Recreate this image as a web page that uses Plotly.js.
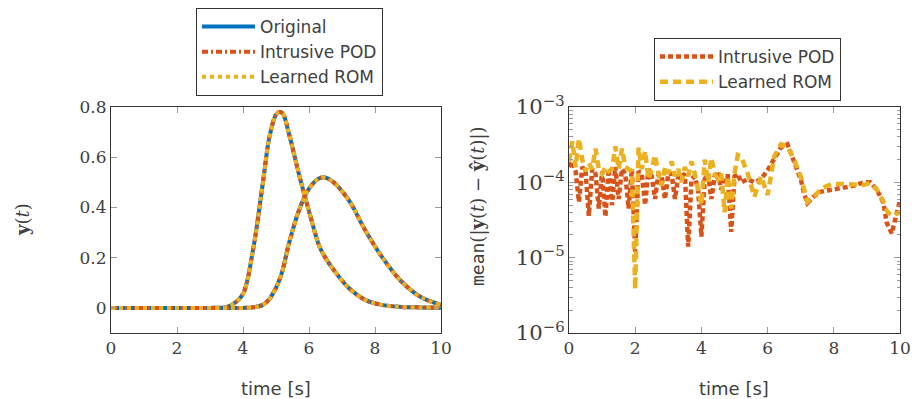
<!DOCTYPE html>
<html>
<head>
<meta charset="utf-8">
<script src="https://cdn.plot.ly/plotly-3.0.1.min.js"></script>
<style>html,body{margin:0;padding:0;background:#fff;}#chart{width:912px;height:399px;}</style>
</head>
<body>
<div id="chart"></div>
<script>
// ---- Left panel: outputs y(t) ----
const tLeft = [0, 1, 2, 3, 3.4, 3.5, 3.7, 4.0, 4.3, 4.6, 4.8, 5.0, 5.1, 5.2, 5.4, 5.7, 6.0, 6.3, 6.45, 6.7, 7.2, 7.7, 8.2, 8.8, 9.4, 10];
const yOut1 = [0, 0, 0, 0, 0.001, 0.003, 0.015, 0.056, 0.228, 0.496, 0.68, 0.77, 0.78, 0.775, 0.69, 0.53, 0.385, 0.25, 0.21, 0.16, 0.08, 0.032, 0.012, 0.004, 0.002, 0.001];
const yOut2 = [0, 0, 0, 0, 0, 0, 0, 0, 0.002, 0.012, 0.035, 0.08, 0.11, 0.15, 0.26, 0.39, 0.475, 0.515, 0.52, 0.505, 0.43, 0.31, 0.205, 0.105, 0.042, 0.012];

// ---- Right panel: mean absolute error ----
const tErr = [0,0.1,0.2,0.3,0.4,0.5,0.6,0.7,0.8,0.9,1.0,1.1,1.2,1.3,1.4,1.5,1.6,1.7,1.8,1.9,2.0,2.1,2.2,2.3,2.4,2.5,2.6,2.7,2.8,2.9,3.0,3.1,3.2,3.3,3.4,3.5,3.6,3.7,3.8,3.9,4.0,4.1,4.2,4.3,4.4,4.5,4.6,4.7,4.8,4.9,5.0,5.1,5.2,5.4,5.6,5.8,6.0,6.2,6.4,6.6,6.8,7.0,7.1,7.2,7.4,7.6,7.8,8.0,8.3,8.6,8.9,9.1,9.3,9.5,9.6,9.75,10];
const errPOD = [1.6e-4,1.9e-4,1.4e-4,5.5e-5,1.6e-4,1.4e-4,3.6e-5,1.5e-4,1.3e-4,4.5e-5,1.4e-4,3.5e-5,1.5e-4,5e-5,1.6e-4,6e-5,1.5e-4,1.3e-4,4.5e-5,1.5e-4,1.2e-5,1.4e-4,1.3e-4,5e-5,1.5e-4,1.2e-4,6e-5,1.3e-4,1.2e-4,6e-5,1.3e-4,1.3e-4,6e-5,1.2e-4,1.2e-4,1.3e-4,1.4e-5,1.1e-4,1.2e-4,8e-5,1.9e-5,1.1e-4,1.3e-4,6e-5,1.2e-4,1.4e-4,8e-5,1.2e-4,1.2e-4,2.2e-5,1.2e-4,1.3e-4,1.0e-4,1.1e-4,1.0e-4,1.1e-4,1.45e-4,2.0e-4,2.9e-4,3.2e-4,1.8e-4,1.1e-4,7.2e-5,5.3e-5,6.5e-5,7.5e-5,7.8e-5,8e-5,8.5e-5,9e-5,1.0e-4,1.0e-4,8e-5,5.3e-5,2.9e-5,2.1e-5,5.8e-5];
const errROM = [1.9e-4,3.5e-4,1.6e-4,3.8e-4,2.0e-4,1.4e-4,1.8e-4,1.5e-4,2.8e-4,1.5e-4,1.3e-4,1.6e-4,1.4e-4,1.5e-4,3.0e-4,1.5e-4,2.8e-4,1.6e-4,1.5e-4,1.4e-4,3.8e-6,2.9e-4,1.5e-4,2.6e-4,1.1e-4,1.5e-4,2.3e-4,1.3e-4,9e-5,1.6e-4,1.3e-4,1.9e-4,1.2e-4,1.5e-4,1.0e-4,1.6e-4,1.2e-4,1.9e-4,1.3e-4,8e-5,5e-5,2.0e-4,1.0e-4,2.1e-4,1.3e-4,1.1e-4,1.3e-4,4e-5,1.2e-4,4.5e-5,1.3e-4,2.3e-4,2.2e-4,1.3e-4,6.4e-5,1.2e-4,6.8e-5,2.2e-4,3.2e-4,3.0e-4,2.0e-4,1.2e-4,8e-5,5.5e-5,6.5e-5,8e-5,9e-5,9.5e-5,9.5e-5,9.5e-5,9.2e-5,9.8e-5,8e-5,5.5e-5,4.2e-5,3.6e-5,4e-5];

const blue = '#0072BD', red = '#D95319', yellow = '#EDB120';
const txt = '#404040';
const serif = 'DejaVu Serif, serif';
const sans = 'DejaVu Sans, sans-serif';

const traces = [
  {x: tLeft, y: yOut1, xaxis: 'x', yaxis: 'y', mode: 'lines', name: 'Original', legendgroup: 'o', legend: 'legend',
   line: {color: blue, width: 4, shape: 'spline'}},
  {x: tLeft, y: yOut2, xaxis: 'x', yaxis: 'y', mode: 'lines', name: 'Original', legendgroup: 'o', showlegend: false,
   line: {color: blue, width: 4, shape: 'spline'}},
  {x: tLeft, y: yOut1, xaxis: 'x', yaxis: 'y', mode: 'lines', name: 'Intrusive POD', legendgroup: 'p', legend: 'legend',
   line: {color: red, width: 4, shape: 'spline', dash: '6px,3px,2px,3px'}},
  {x: tLeft, y: yOut2, xaxis: 'x', yaxis: 'y', mode: 'lines', name: 'Intrusive POD', legendgroup: 'p', showlegend: false,
   line: {color: red, width: 4, shape: 'spline', dash: '6px,3px,2px,3px'}},
  {x: tLeft, y: yOut1, xaxis: 'x', yaxis: 'y', mode: 'lines', name: 'Learned ROM', legendgroup: 'r', legend: 'legend',
   line: {color: yellow, width: 4, shape: 'spline', dash: '4px,4px'}},
  {x: tLeft, y: yOut2, xaxis: 'x', yaxis: 'y', mode: 'lines', name: 'Learned ROM', legendgroup: 'r', showlegend: false,
   line: {color: yellow, width: 4, shape: 'spline', dash: '4px,4px'}},
  {x: tErr, y: errPOD, xaxis: 'x2', yaxis: 'y2', mode: 'lines', name: 'Intrusive POD', legend: 'legend2',
   line: {color: red, width: 4.5, dash: '5px,3px'}},
  {x: tErr, y: errROM, xaxis: 'x2', yaxis: 'y2', mode: 'lines', name: 'Learned ROM', legend: 'legend2',
   line: {color: yellow, width: 4.5, dash: '8px,5px'}}
];

const yDom = [1 - 333/399, 1 - 107/399];
const axBase = {
  showline: true, linecolor: '#333', linewidth: 1, mirror: 'ticks',
  ticks: 'inside', ticklen: 6, tickcolor: '#999', tickwidth: 1,
  showgrid: false, zeroline: false,
  tickfont: {family: serif, size: 17, color: txt}
};
const legBase = {xanchor: 'left', yanchor: 'top', bgcolor: '#fff', bordercolor: '#333', borderwidth: 1,
  tracegroupgap: 0, itemwidth: 53, font: {family: sans, size: 17, color: txt}};

const layout = {
  width: 912, height: 399,
  margin: {l: 0, r: 0, t: 0, b: 0},
  paper_bgcolor: '#fff', plot_bgcolor: '#fff',
  showlegend: true,
  xaxis: Object.assign({}, axBase, {domain: [111/912, 441/912], range: [0, 10], tickvals: [0,2,4,6,8,10], anchor: 'y'}),
  yaxis: Object.assign({}, axBase, {domain: yDom, range: [-0.1, 0.8], tickvals: [0,0.2,0.4,0.6,0.8], ticktext: ['0','0.2','0.4','0.6','0.8'], anchor: 'x'}),
  xaxis2: Object.assign({}, axBase, {domain: [569/912, 900/912], range: [0, 10], tickvals: [0,2,4,6,8,10], anchor: 'y2'}),
  yaxis2: Object.assign({}, axBase, {domain: yDom, type: 'log', range: [-6, -3], dtick: 1, tick0: 0,
    exponentformat: 'power', showexponent: 'all', anchor: 'x2',
    minor: {ticks: 'inside', ticklen: 3.5, tickcolor: '#999', showgrid: false}}),
  legend: Object.assign({}, legBase, {x: 196/912, y: 1 - 8/399}),
  legend2: Object.assign({}, legBase, {x: 654/912, y: 1 - 38/399}),
  annotations: [
    {xref: 'paper', yref: 'paper', x: 22/912, y: 1 - 220/399, xanchor: 'center', yanchor: 'middle', textangle: -90, showarrow: false,
     text: '<b>y</b>(<i>t</i>)', font: {family: serif, size: 18, color: txt}},
    {xref: 'paper', yref: 'paper', x: 478/912, y: 1 - 206/399, xanchor: 'center', yanchor: 'middle', textangle: -90, showarrow: false,
     text: '<span style="font-family:DejaVu Sans Mono">mean</span>(|<b>y</b>(<i>t</i>) − <b>ŷ</b>(<i>t</i>)|)',
     font: {family: serif, size: 18, color: txt}},
    {xref: 'paper', yref: 'paper', x: 276/912, y: 1 - 388/399, xanchor: 'center', yanchor: 'middle', showarrow: false,
     text: 'time [s]', font: {family: sans, size: 18, color: txt}},
    {xref: 'paper', yref: 'paper', x: 734/912, y: 1 - 388/399, xanchor: 'center', yanchor: 'middle', showarrow: false,
     text: 'time [s]', font: {family: sans, size: 18, color: txt}}
  ]
};

Plotly.newPlot('chart', traces, layout, {staticPlot: true, displayModeBar: false});
</script>
</body>
</html>
